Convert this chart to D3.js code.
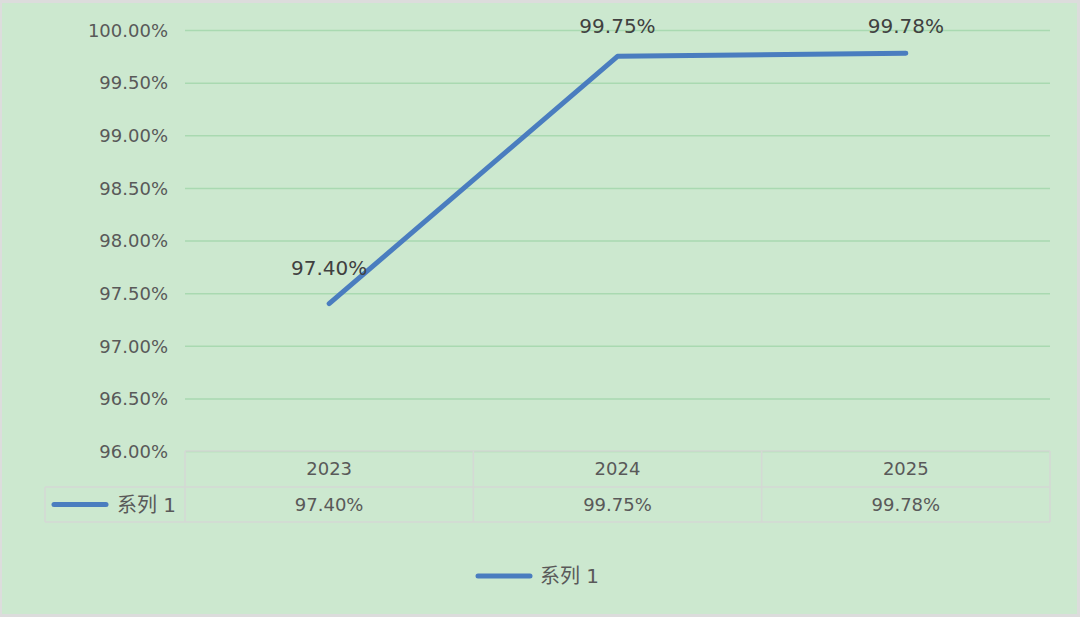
<!DOCTYPE html>
<html>
<head>
<meta charset="utf-8">
<script src="https://cdn.jsdelivr.net/npm/d3@7"></script>
<style>
  body { margin: 0; background: #dcdcdc; }
  svg { display: block; }
  text { font-family: "DejaVu Sans", "Noto Sans CJK SC", sans-serif; }
</style>
</head>
<body>
<svg id="chart"></svg>
<script>
// chart data
var years = ["2023", "2024", "2025"];
var values = [0.9740, 0.9975, 0.9978];
var seriesName = "系列 1";
var yTicks = [0.96, 0.965, 0.97, 0.975, 0.98, 0.985, 0.99, 0.995, 1.0];

var W = 1080, H = 617;
var margin = {top: 30, right: 30, bottom: 166, left: 185};

var svg = d3.select("svg#chart")
  .attr("width", W)
  .attr("height", H);

// chart area background
svg.append("rect")
  .attr("x", 2).attr("y", 3)
  .attr("width", 1075).attr("height", 611)
  .attr("fill", "#cce8cf");

var x = d3.scaleBand()
  .domain(years)
  .range([margin.left, W - margin.right]);

var y = d3.scaleLinear()
  .domain([0.96, 1.0])
  .range([H - margin.bottom, margin.top]);

var fmt = d3.format(".2%");

// gridlines + y labels
var yAxis = svg.append("g")
  .attr("transform", "translate(" + margin.left + ",0)")
  .call(d3.axisLeft(y).tickValues(yTicks).tickFormat(fmt)
    .tickSize(-(W - margin.right - margin.left)).tickPadding(17));
yAxis.select(".domain").remove();
yAxis.selectAll(".tick line")
  .attr("stroke", "#a9d9b1")
  .attr("stroke-width", 1.5);
yAxis.selectAll(".tick text")
  .attr("fill", "#595959")
  .attr("font-size", 18)
  .attr("dy", "0.35em");

// data table
var tbl = svg.append("g");
var rowTop = y(0.96), rowMid = rowTop + 36, rowBot = rowMid + 35;
var tableLeft = 45;
var gridColor = "#d4d9d4";

tbl.append("line")
  .attr("x1", x.range()[0]).attr("x2", x.range()[1])
  .attr("y1", rowTop).attr("y2", rowTop)
  .attr("stroke", gridColor).attr("stroke-width", 1.5);
[rowMid, rowBot].forEach(function(yy){
  tbl.append("line")
    .attr("x1", tableLeft).attr("x2", x.range()[1])
    .attr("y1", yy).attr("y2", yy)
    .attr("stroke", gridColor).attr("stroke-width", 1.5);
});
tbl.append("line")
  .attr("x1", tableLeft).attr("x2", tableLeft)
  .attr("y1", rowMid).attr("y2", rowBot)
  .attr("stroke", gridColor).attr("stroke-width", 1.5);
years.concat([null]).forEach(function(d){
  var xx = d ? x(d) : x.range()[1];
  tbl.append("line")
    .attr("x1", xx).attr("x2", xx)
    .attr("y1", rowTop).attr("y2", rowBot)
    .attr("stroke", gridColor).attr("stroke-width", 1.5);
});

tbl.selectAll("text.year")
  .data(years)
  .enter().append("text")
  .attr("class", "year")
  .attr("x", function(d){ return x(d) + x.bandwidth() / 2; })
  .attr("y", (rowTop + rowMid) / 2)
  .attr("dy", "0.35em")
  .attr("text-anchor", "middle")
  .attr("font-size", 18)
  .attr("fill", "#595959")
  .text(function(d){ return d; });

tbl.selectAll("text.val")
  .data(values)
  .enter().append("text")
  .attr("class", "val")
  .attr("x", function(d, i){ return x(years[i]) + x.bandwidth() / 2; })
  .attr("y", (rowMid + rowBot) / 2)
  .attr("dy", "0.35em")
  .attr("text-anchor", "middle")
  .attr("font-size", 18)
  .attr("fill", "#595959")
  .text(function(d){ return fmt(d); });

// legend key inside table
var lineColor = "#4a7dbf";
tbl.append("line")
  .attr("x1", 54).attr("x2", 106)
  .attr("y1", (rowMid + rowBot) / 2).attr("y2", (rowMid + rowBot) / 2)
  .attr("stroke", lineColor).attr("stroke-width", 5)
  .attr("stroke-linecap", "round");
tbl.append("text")
  .attr("x", 117).attr("y", (rowMid + rowBot) / 2)
  .attr("dy", "0.35em")
  .attr("font-size", 20)
  .attr("fill", "#595959")
  .text(seriesName);

// series line
var line = d3.line()
  .x(function(d, i){ return x(years[i]) + x.bandwidth() / 2; })
  .y(function(d){ return y(d); });

svg.append("path")
  .datum(values)
  .attr("fill", "none")
  .attr("stroke", lineColor)
  .attr("stroke-width", 5)
  .attr("stroke-linejoin", "round")
  .attr("stroke-linecap", "round")
  .attr("d", line);

// data labels (kept inside the top of the chart)
svg.selectAll("text.lbl")
  .data(values)
  .enter().append("text")
  .attr("class", "lbl")
  .attr("x", function(d, i){ return x(years[i]) + x.bandwidth() / 2; })
  .attr("y", function(d){ return Math.max(y(d) - 36, 26); })
  .attr("dy", "0.35em")
  .attr("text-anchor", "middle")
  .attr("font-size", 20)
  .attr("fill", "#404040")
  .text(function(d){ return fmt(d); });

// bottom legend
var lg = svg.append("g").attr("transform", "translate(478,576)");
lg.append("line")
  .attr("x1", 0).attr("x2", 52)
  .attr("stroke", lineColor).attr("stroke-width", 5)
  .attr("stroke-linecap", "round");
lg.append("text")
  .attr("x", 62).attr("dy", "0.35em")
  .attr("font-size", 20)
  .attr("fill", "#595959")
  .text(seriesName);
</script>
</body>
</html>
